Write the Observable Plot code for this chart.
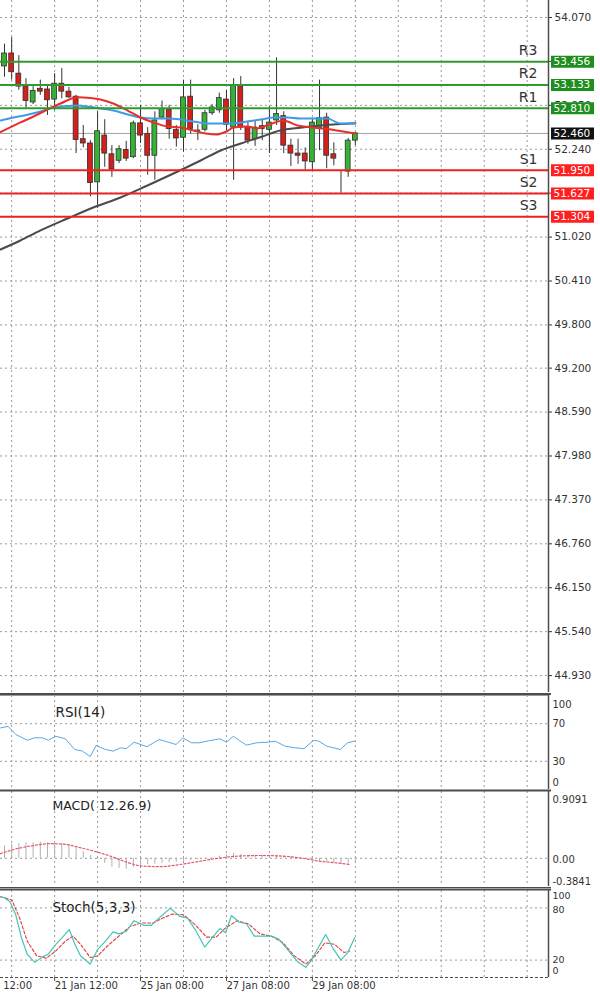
<!DOCTYPE html>
<html><head><meta charset="utf-8">
<script src="https://cdn.jsdelivr.net/npm/d3@7"></script>
<script src="https://cdn.jsdelivr.net/npm/@observablehq/plot@0.6"></script>
<style>
html,body{margin:0;padding:0;background:#fff;}
#chart{position:relative;width:600px;height:1002px;overflow:hidden;background:#fff;}
#chart svg{position:absolute;left:0;display:block;}
#scroll{position:absolute;left:76px;top:999px;width:524px;height:2px;background:#444;}
</style></head>
<body><div id="chart"><div id="scroll"></div></div>
<script>
// ---------------- data ----------------
const opens  = [53.39,53.57,53.29,53.11,52.89,53.08,53.07,52.93,53.15,53.04,52.97,52.38,52.32,51.78,52.43,52.17,52.08,52.23,52.13,52.60,52.45,52.15,52.68,52.79,52.51,52.40,52.97,52.48,52.51,52.74,52.78,52.93,52.54,53.11,52.55,52.38,52.56,52.51,52.64,52.70,52.29,52.18,52.18,52.06,52.53,52.68,52.17,51.93,51.93,52.36];
const highs  = [53.70,53.79,53.54,53.22,53.11,53.20,53.13,53.29,53.36,53.10,52.99,52.57,52.36,52.76,52.65,52.29,52.29,52.35,52.63,52.85,52.54,52.76,52.91,52.85,52.57,53.20,53.20,52.58,52.78,52.86,53.02,53.06,53.22,53.25,52.61,52.64,52.65,52.83,53.51,52.76,52.38,52.38,52.26,52.67,53.20,52.74,52.33,51.94,52.39,52.47];
const lows   = [53.24,53.20,53.06,52.81,52.86,52.99,52.71,52.78,52.94,52.95,52.18,52.26,51.58,51.42,51.99,51.85,52.04,52.07,52.11,52.32,51.88,51.81,52.65,52.38,52.27,52.20,52.45,52.36,52.48,52.71,52.74,52.50,51.81,52.50,52.31,52.28,52.36,52.18,52.57,52.18,52.00,52.03,51.95,51.93,52.22,51.97,52.01,51.63,51.85,52.29];
const closes = [53.57,53.31,53.11,52.91,53.05,53.04,52.92,53.15,53.04,52.96,52.37,52.32,51.77,52.49,52.18,51.96,52.24,52.11,52.60,52.43,52.15,52.64,52.80,52.52,52.39,52.96,52.52,52.50,52.74,52.82,52.95,52.58,53.13,52.54,52.36,52.54,52.52,52.61,52.73,52.29,52.18,52.15,52.07,52.61,52.67,52.15,52.11,51.93,52.36,52.46];

// moving averages (bar position, price)
const maFastIdx = [-0.56,2.23,4.05,6.0,7.82,10.2,12.0,13.4,15.2,17.2,19.0,20.8,22.8,24.6,26.4,28.1,29.5,31.0,32.0,33.9,35.3,37.0,38.97,40.9,43.0,45.1,46.9,49.0];
const maFastVal = [52.480,52.612,52.695,52.792,52.875,52.963,52.952,52.931,52.875,52.778,52.681,52.612,52.556,52.542,52.500,52.459,52.445,52.487,52.542,52.556,52.528,52.584,52.639,52.570,52.542,52.521,52.493,52.459];
const maMidIdx  = [-0.56,1.26,3.21,5.03,6.84,8.8,10.2,11.6,13.4,15.2,17.2,19.0,20.8,22.8,24.6,26.4,28.4,30.2,32.0,33.9,35.8,37.6,39.5,41.3,43.2,45.1,46.9,49.0];
const maMidVal  = [52.639,52.681,52.720,52.764,52.820,52.840,52.848,52.834,52.806,52.778,52.723,52.681,52.667,52.667,52.653,52.625,52.598,52.598,52.598,52.625,52.653,52.681,52.681,52.667,52.667,52.667,52.598,52.598];
const maSlowIdx = [-0.56,2.23,5.03,8.8,12.4,16.2,19.97,23.6,27.4,30.2,33.0,35.8,38.5,41.3,44.1,46.9,49.0];
const maSlowVal = [50.848,50.973,51.112,51.278,51.431,51.570,51.737,51.903,52.084,52.223,52.320,52.41,52.50,52.54,52.57,52.59,52.60];

// pivot levels
const levelNames  = ["R3","R2","R1","S1","S2","S3"];
const levelValues = [53.456,53.133,52.810,51.950,51.627,51.304];
const currentPrice = 52.460;

// price axis
const priceTicks = [54.07,53.46,52.85,52.24,51.63,51.02,50.41,49.80,49.20,48.59,47.98,47.37,46.76,46.15,45.54,44.93];
const priceTickLabels = ["54.070","53.460","52.850","52.240","51.630","51.020","50.410","49.800","49.200","48.590","47.980","47.370","46.760","46.150","45.540","44.930"];

// time axis
const gridIdx = [1,7,13,19,25,31,37,43,49,55,61,67,73];
const xLabelIdx  = [-5,7,19,31,43];
const xLabelText = ["19 Jan 12:00","21 Jan 12:00","25 Jan 08:00","27 Jan 08:00","29 Jan 08:00"];

// RSI(14)
const rsiIdx = [-0.56,0.5,1.6,3.2,4.2,5.3,6.1,7.2,8.5,9.8,10.9,11.97,12.8,14.1,15.2,16.2,17.0,18.1,19.9,21.6,22.9,23.96,24.9,26.1,27.2,28.5,30.1,31.0,31.96,32.8,33.8,35.2,36.8,37.8,39.2,40.5,41.8,43.2,43.9,45.0,46.9,47.9,48.9];
const rsiVal = [65.5,67.2,58.4,52.4,55,55,52.4,56.6,53.9,42.6,40.8,35,46.8,42.6,40.8,44.4,43.4,50.3,45.5,53.2,50.3,47.9,54.9,49.7,49.7,51.8,53.9,50.3,56.6,52.1,47.2,49.7,50.3,51.4,46.1,44.4,43.4,52.4,51.4,46.1,42.6,49.7,51.4];
const rsiLabels = [100,70,30,0];

// MACD(12,26,9)
const macdHist = [0.17,0.19,0.20,0.21,0.21,0.22,0.21,0.21,0.20,0.18,0.14,0.09,0.04,-0.01,-0.07,-0.12,-0.14,-0.15,-0.13,-0.11,-0.09,-0.08,-0.07,-0.06,-0.05,-0.04,-0.03,-0.02,-0.01,0.01,0.03,0.05,0.07,0.05,0.04,0.04,0.04,0.04,0.04,0.03,0.02,0.01,-0.01,-0.03,-0.04,-0.05,-0.06,-0.07,-0.07,-0.06];
const macdSigIdx = [-0.56,1.58,3.7,6.4,8.5,10.1,12.2,14.4,16.5,19.2,21.8,24.5,27.2,29.8,32.5,35.7,38.9,41.6,44.2,46.4,48.2];
const macdSigVal = [0.063,0.127,0.168,0.199,0.190,0.156,0.105,0.042,-0.034,-0.105,-0.114,-0.085,-0.042,0,0.029,0.038,0.029,0,-0.042,-0.063,-0.085];
const macdMax = 0.9091, macdMin = -0.3841;

// Stoch(5,3,3)
const stMainIdx = [-0.56,-0.03,0.77,1.57,2.37,3.17,4.24,5.30,6.10,7.17,8.24,9.04,9.83,10.63,11.97,13.03,14.10,15.17,15.97,17.03,18.10,19.43,20.50,21.83,23.16,24.49,25.56,26.63,27.96,29.02,30.09,30.89,31.69,32.76,33.82,34.89,36.22,37.29,38.35,39.69,41.02,42.08,42.88,43.95,44.86,45.82,46.99,47.95,48.91];
const stMainVal = [92.8,91.7,87,72,45.7,26.8,17.4,23.7,26.8,38.1,47.5,55.1,38.1,24.8,15.5,32.4,41.8,52.5,50.2,53.2,65.3,60,60,70.2,79.7,70.2,68.3,55.1,35,45.7,56.2,51.4,71.3,63.8,61.5,47.5,47.5,47.5,43.8,30.5,17.4,11.7,20,36.2,49.4,34.4,20,28.7,45.7];
const stSigIdx = [-0.56,1.04,2.11,3.17,4.50,5.84,7.17,8.50,9.57,10.63,11.97,13.03,14.37,15.97,17.56,19.16,20.76,22.10,23.43,25.03,26.63,28.22,29.56,30.89,32.49,34.09,35.69,37.29,38.89,40.49,42.08,43.42,44.75,46.08,47.42,48.22];
const stSigVal = [92.8,89,68.3,41.8,24.8,22.2,30.5,41.8,47.5,38.1,23,24.8,36.2,47.5,58.8,62.7,62.7,68.3,72.9,72.1,60.7,46.4,46.4,57,65.3,61.5,50.2,47.5,40,24.8,15.5,24.8,40,38.1,28.7,30.5];

// ---------------- styling ----------------
const FONT = "DejaVu Sans, Verdana, sans-serif";
const GRID = "#9a9a9a";
const AXIS = "#4d4d4d";
const TXT = "#333";
const X_DOMAIN = [-0.56, 75.98];
const W = 600, MR = 52;
const dash = {stroke: GRID, strokeDasharray: "2,3", strokeWidth: 1};
const baseStyle = {fontFamily: FONT, fontSize: "10.5px", background: "white", color: TXT};

const candles = opens.map((o, i) => ({i, o, h: highs[i], l: lows[i], c: closes[i]}));
const pts = (xs, ys) => xs.map((x, k) => ({x, y: ys[k]}));
const levels = levelNames.map((name, k) => ({name, v: levelValues[k], up: name[0] === "R"}));
const boxes = levels.map(d => ({v: d.v, fill: d.up ? "#1e8f1e" : "#ff1f1f", label: d.v.toFixed(3)}))
  .concat([{v: currentPrice, fill: "#111", label: currentPrice.toFixed(3)}]);
const tickLabelMap = new Map(priceTicks.map((t, k) => [t, priceTickLabels[k]]));
const sideLabel = (vals, fmt, dy, size = 10) => Plot.text(vals, {y: d => d, text: fmt, frameAnchor: "right",
  textAnchor: "start", dx: 4, dy, fontSize: size, fill: TXT});

const chart = document.getElementById("chart");
function place(svg, top) { svg.style.top = top + "px"; chart.appendChild(svg); }

// ---------------- main price panel ----------------
const main = Plot.plot({
  width: W, height: 692, marginLeft: 0, marginRight: MR, marginTop: 0, marginBottom: 0,
  style: baseStyle,
  x: {domain: X_DOMAIN, axis: null},
  y: {domain: [44.695, 54.306], axis: null},
  marks: [
    Plot.ruleY(priceTicks, dash),
    Plot.ruleX(gridIdx, dash),
    Plot.ruleY([currentPrice], {stroke: "#a0a0a0", strokeWidth: 1}),
    Plot.ruleX(candles, {x: "i", y1: "l", y2: "h", stroke: "#333", strokeWidth: 1}),
    Plot.rect(candles, {x1: d => d.i - 0.34, x2: d => d.i + 0.34, y1: "o", y2: "c",
      fill: d => d.c >= d.o ? "#35b335" : "#d61f1b", stroke: "#2e2e2e", strokeWidth: 0.8}),
    Plot.line(pts(maSlowIdx, maSlowVal), {x: "x", y: "y", stroke: "#4a4a4a", strokeWidth: 2, curve: "monotone-x"}),
    Plot.line(pts(maMidIdx, maMidVal), {x: "x", y: "y", stroke: "#3d9be8", strokeWidth: 2, curve: "monotone-x"}),
    Plot.line(pts(maFastIdx, maFastVal), {x: "x", y: "y", stroke: "#e8302a", strokeWidth: 2, curve: "monotone-x"}),
    Plot.ruleY(levels, {y: "v", stroke: d => d.up ? "#2f9a2f" : "#ee2020", strokeWidth: 2}),
    Plot.text(levels, {y: "v", text: "name", frameAnchor: "right", textAnchor: "end", dx: -11, dy: -11,
      fontSize: 14, fill: TXT}),
    Plot.axisY({anchor: "right", ticks: priceTicks, tickFormat: d => tickLabelMap.get(d),
      tickSize: 3, tickPadding: 3, fontSize: 10.5, fill: TXT, stroke: TXT}),
    Plot.ruleY(boxes, {y: "v", stroke: "fill", strokeWidth: 12, insetLeft: 551, insetRight: -46}),
    Plot.text(boxes, {y: "v", text: "label", frameAnchor: "right", textAnchor: "start", dx: 5,
      fontSize: 10.5, fill: "white"}),
    Plot.ruleX([X_DOMAIN[1]], {stroke: AXIS, strokeWidth: 1.5})
  ]
});
place(main, 0);

// ---------------- RSI panel ----------------
const rsi = Plot.plot({
  width: W, height: 97, marginLeft: 0, marginRight: MR, marginTop: 3, marginBottom: 0,
  style: baseStyle,
  x: {domain: X_DOMAIN, axis: null},
  y: {domain: [0, 100], axis: null},
  marks: [
    Plot.ruleY([70, 30], dash),
    Plot.ruleX(gridIdx, dash),
    Plot.ruleY([100], {stroke: AXIS, strokeWidth: 2, dy: -1.5, insetRight: -3}),
    Plot.ruleY([100], {stroke: "#9a9a9a", strokeWidth: 1}),
    Plot.line(pts(rsiIdx, rsiVal), {x: "x", y: "y", stroke: "#5aa8e4", strokeWidth: 1}),
    Plot.ruleX([X_DOMAIN[1]], {stroke: AXIS, strokeWidth: 1.5}),
    Plot.text(["RSI(14)"], {text: d => d, frameAnchor: "top-left", dx: 55, dy: 12, fontSize: 13.5, fill: "#222", textAnchor: "start"}),
    sideLabel(rsiLabels.filter(d => d === 70 || d === 30), d => String(d), 0.5),
    sideLabel(rsiLabels.filter(d => d === 100), d => String(d), 9),
    sideLabel(rsiLabels.filter(d => d === 0), d => String(d), -7)
  ]
});
place(rsi, 692);

// ---------------- MACD panel ----------------
const macd = Plot.plot({
  width: W, height: 99, marginLeft: 0, marginRight: MR, marginTop: 2, marginBottom: 2,
  style: baseStyle,
  x: {domain: X_DOMAIN, axis: null},
  y: {domain: [macdMin, macdMax], axis: null},
  marks: [
    Plot.ruleY([0], dash),
    Plot.ruleX(gridIdx, dash),
    Plot.ruleY([macdMax], {stroke: AXIS, strokeWidth: 2, dy: -1, insetRight: -3}),
    Plot.ruleY([macdMin], {stroke: AXIS, strokeWidth: 1, dy: 1, insetRight: -3}),
    Plot.ruleX(macdHist.map((v, i) => ({i, v})), {x: "i", y1: 0, y2: "v", stroke: "#b0b0b0", strokeWidth: 1}),
    Plot.line(pts(macdSigIdx, macdSigVal), {x: "x", y: "y", stroke: "#e4566b", strokeWidth: 1.2, strokeDasharray: "2,2", curve: "monotone-x"}),
    Plot.ruleX([X_DOMAIN[1]], {stroke: AXIS, strokeWidth: 1.5}),
    Plot.text(["MACD( 12.26.9)"], {text: d => d, frameAnchor: "top-left", dx: 52, dy: 10, fontSize: 12.5, fill: "#222", textAnchor: "start"}),
    sideLabel([macdMax], d => d.toFixed(4), 8),
    sideLabel([0], d => d.toFixed(2), 2),
    sideLabel([macdMin], d => d.toFixed(4), -5)
  ]
});
place(macd, 789);

// ---------------- Stochastic panel + time axis ----------------
const stoch = Plot.plot({
  width: W, height: 114, marginLeft: 0, marginRight: MR, marginTop: 2, marginBottom: 25,
  style: baseStyle,
  x: {domain: X_DOMAIN, axis: null},
  y: {domain: [0, 100], axis: null},
  marks: [
    Plot.ruleY([80, 20], dash),
    Plot.ruleX(gridIdx, dash),
    Plot.ruleY([100], {stroke: AXIS, strokeWidth: 2, dy: -1, insetRight: -3}),
    Plot.ruleY([0], {stroke: AXIS, strokeWidth: 1, strokeDasharray: "3,2"}),
    Plot.line(pts(stSigIdx, stSigVal), {x: "x", y: "y", stroke: "#e23a3a", strokeWidth: 1.1, strokeDasharray: "3,2"}),
    Plot.line(pts(stMainIdx, stMainVal), {x: "x", y: "y", stroke: "#45c4b6", strokeWidth: 1.2}),
    Plot.ruleX([X_DOMAIN[1]], {stroke: AXIS, strokeWidth: 1.5}),
    Plot.text(["Stoch(5,3,3)"], {text: d => d, frameAnchor: "top-left", dx: 52, dy: 12, fontSize: 13.5, fill: "#222", textAnchor: "start"}),
    sideLabel([100], d => String(d), 5, 9.5),
    sideLabel([80], d => String(d), 2, 9.5),
    sideLabel([20], d => String(d), 0, 9.5),
    sideLabel([0], d => String(d), -7, 9.5),
    Plot.ruleX(xLabelIdx, {stroke: AXIS, insetTop: 87, insetBottom: -4}),
    Plot.text(xLabelIdx.map((i, k) => ({i, t: xLabelText[k]})), {x: "i", text: "t", frameAnchor: "bottom",
      textAnchor: "start", dx: 0, dy: 11, fontSize: 10, fill: TXT})
  ]
});
place(stoch, 888);
</script>
</body></html>
